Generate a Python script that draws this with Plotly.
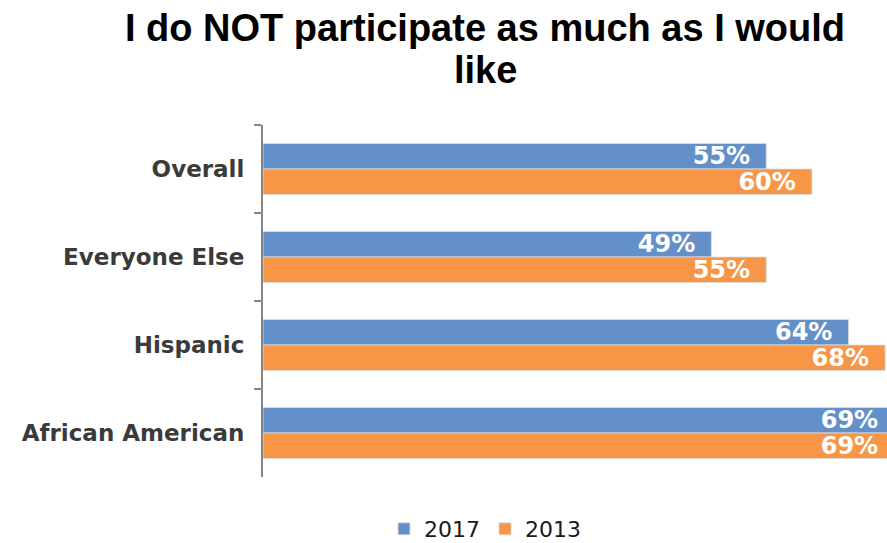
import plotly.graph_objects as go

# Survey groups, listed top to bottom
categories = ["Overall", "Everyone Else", "Hispanic", "African American"]
values_2017 = [55, 49, 64, 69]
values_2013 = [60, 55, 68, 69]
title_lines = ["I do NOT participate as much as I would", "like"]

BLUE = "#6390C8"
ORANGE = "#F79646"
LABEL_FONT = "DejaVu Sans, Verdana, sans-serif"

PLOT_L, PLOT_R, PLOT_T, PLOT_B = 263, 887, 125, 477
W, H = 887, 543

fig = go.Figure()
for name, vals, color in [("2017", values_2017, BLUE), ("2013", values_2013, ORANGE)]:
    fig.add_trace(go.Bar(
        name=name,
        y=categories,
        x=vals,
        orientation="h",
        marker=dict(color=color, line=dict(color="#DDDDDD", width=0.8)),
        texttemplate="%{x}%\u00a0\u2009",
        textposition="inside",
        insidetextanchor="end",
        textangle=0,
        constraintext="none",
        textfont=dict(family=LABEL_FONT, size=24, color="white", weight="bold"),
        cliponaxis=True,
    ))

# Two-line heading, one annotation per line for tight line spacing
for line, ypix in zip(title_lines, [28, 70]):
    fig.add_annotation(
        text=line,
        xref="paper", yref="paper",
        x=(485 - PLOT_L) / (PLOT_R - PLOT_L),
        y=1 + (PLOT_T - ypix) / (PLOT_B - PLOT_T),
        xanchor="center", yanchor="middle",
        showarrow=False,
        font=dict(family="Liberation Sans, Arial, sans-serif", size=38, color="black", weight="bold"),
    )

fig.update_layout(
    width=W,
    height=H,
    margin=dict(l=PLOT_L, r=W - PLOT_R, t=PLOT_T, b=H - PLOT_B, autoexpand=False),
    plot_bgcolor="white",
    paper_bgcolor="white",
    barmode="group",
    bargap=0.42,
    bargroupgap=0,
    legend=dict(
        orientation="h",
        x=(485 - PLOT_L) / (PLOT_R - PLOT_L),
        xanchor="center",
        y=-(508 - PLOT_B) / (PLOT_B - PLOT_T),
        yanchor="top",
        font=dict(family=LABEL_FONT, size=22, color="#1a1a1a"),
        traceorder="normal",
        itemwidth=30,
    ),
    showlegend=True,
)

fig.update_xaxes(range=[0, 68.2], visible=False, showgrid=False, zeroline=False)
fig.update_yaxes(
    autorange="reversed",
    tickson="boundaries",
    ticks="outside",
    ticklen=7,
    tickwidth=2,
    tickcolor="#868686",
    showline=True,
    linecolor="#868686",
    linewidth=2,
    showgrid=False,
    ticklabelstandoff=12,
    tickfont=dict(family=LABEL_FONT, size=23, color="#3a3a3a", weight="bold"),
)

fig.write_html("out.html")
